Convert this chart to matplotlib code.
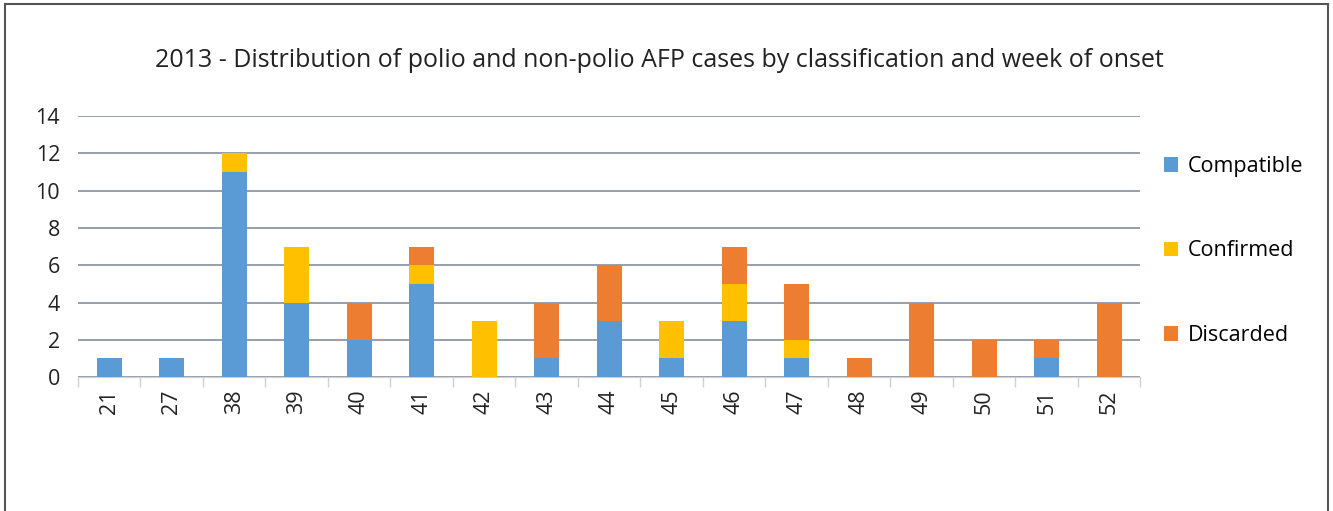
import matplotlib.pyplot as plt
import matplotlib.patches as mpatches
import numpy as np

# ---- Data ----
weeks = ['21', '27', '38', '39', '40', '41', '42', '43', '44',
         '45', '46', '47', '48', '49', '50', '51', '52']
compatible = [1, 1, 11, 4, 2, 5, 0, 1, 3, 1, 3, 1, 0, 0, 0, 1, 0]
confirmed = [0, 0, 1, 3, 0, 1, 3, 0, 0, 2, 2, 1, 0, 0, 0, 0, 0]
discarded = [0, 0, 0, 0, 2, 1, 0, 3, 3, 0, 2, 3, 1, 4, 2, 1, 4]

colors = {'Compatible': '#5b9bd5', 'Confirmed': '#ffc000', 'Discarded': '#ed7d31'}

# ---- Plot ----
plt.rcParams['font.family'] = ['Open Sans', 'DejaVu Sans']
fig = plt.figure(figsize=(13.33, 5.11), dpi=100)
ax = fig.add_axes([0.0585, 0.262, 0.797, 0.511])

x = np.arange(len(weeks))
comp = np.array(compatible)
conf = np.array(confirmed)
disc = np.array(discarded)
w = 0.4
ax.bar(x, comp, w, color=colors['Compatible'], label='Compatible', zorder=3)
ax.bar(x, conf, w, bottom=comp, color=colors['Confirmed'], label='Confirmed', zorder=3)
ax.bar(x, disc, w, bottom=comp + conf, color=colors['Discarded'], label='Discarded', zorder=3)

ax.set_xlim(-0.5, len(weeks) - 0.5)
ax.set_ylim(0, 14)
ax.set_yticks(range(0, 15, 2))
ax.set_xticks(x)
ax.set_xticklabels(weeks, rotation=90)
ax.set_xticks(np.arange(-0.5, len(weeks), 1), minor=True)
ax.tick_params(axis='x', which='major', length=0, pad=9, labelsize=15.5, colors='#222222')
ax.tick_params(axis='x', which='minor', length=7, color='#d0d0d0', width=1)
ax.tick_params(axis='y', length=0, pad=13, labelsize=15.5, colors='#222222')

ax.yaxis.grid(True, color='#7a8593', linewidth=1.1, zorder=0)
for s in ['top', 'right', 'left']:
    ax.spines[s].set_visible(False)
ax.spines['bottom'].set_color('#d0d0d0')

fig.text(0.495, 0.882, '2013 - Distribution of polio and non-polio AFP cases by classification and week of onset',
         ha='center', va='center', fontsize=18, color='#222222')

leg = ax.legend(loc='center left', bbox_to_anchor=(1.004, 0.483), frameon=False,
                fontsize=15.5, labelspacing=2.95, handlelength=0.65, handleheight=0.65,
                handletextpad=0.45)

# outer frame
fig.patches.append(mpatches.Rectangle((0.004, -0.01), 0.992, 1.002, transform=fig.transFigure,
                                      fill=False, edgecolor='#555555', linewidth=1.5))

fig.savefig('out.png', dpi=100)
